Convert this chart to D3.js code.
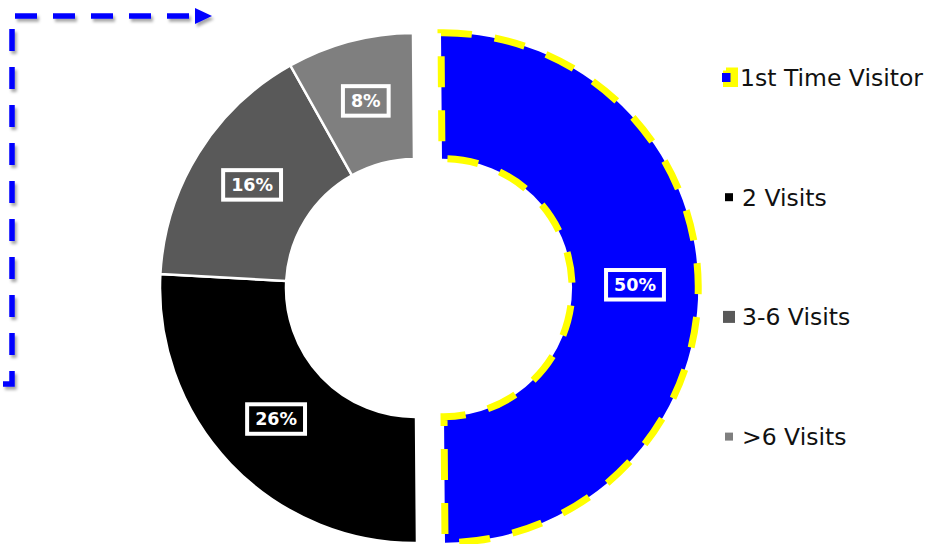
<!DOCTYPE html>
<html>
<head>
<meta charset="utf-8">
<script src="https://cdn.jsdelivr.net/npm/d3@7/dist/d3.min.js"></script>
<style>
  html, body { margin: 0; padding: 0; background: #fff; }
  svg { display: block; }
</style>
</head>
<body>
<svg id="chart" width="927" height="544"></svg>
<script>
// ---- data ----
const categories = ["1st Time Visitor", "2 Visits", "3-6 Visits", ">6 Visits"];
const values = [50, 26, 16, 8];
const valueLabels = ["50%", "26%", "16%", "8%"];

// ---- styles ----
const colors = ["#0000ff", "#000000", "#595959", "#7f7f7f"];
const legendMarkerSize = [8, 8, 12, 8];

const W = 927, H = 544;
const cx = 415, cy = 288;
const outerR = 255, innerR = 129;
const explode = 28;
const rot = -0.45 * Math.PI / 180;

const svg = d3.select("#chart");
const defs = svg.append("defs");
const f = defs.append("filter").attr("id", "shadow")
  .attr("x", "-20%").attr("y", "-20%").attr("width", "140%").attr("height", "140%");
f.append("feDropShadow").attr("dx", 2).attr("dy", 3).attr("stdDeviation", 1.6)
  .attr("flood-color", "#000").attr("flood-opacity", 0.35);

// ---- dashed arrow ----
const arrowPts = [[3, 384], [12, 384], [12, 16], [196, 16]];
const ag = svg.append("g").attr("filter", "url(#shadow)");
ag.append("path")
  .attr("d", d3.line()(arrowPts))
  .attr("fill", "none")
  .attr("stroke", "#0000ff")
  .attr("stroke-width", 5.5)
  .attr("stroke-dasharray", "22,16");
ag.append("path")
  .attr("d", "M195,8 L212,16 L195,24 Z")
  .attr("fill", "#0000ff");

// ---- donut ----
const pie = d3.pie().sort(null).value(d => d)
  .startAngle(rot).endAngle(2 * Math.PI + rot);
const arcs = pie(values);
const arc = d3.arc().innerRadius(innerR).outerRadius(outerR);
const labelArc = d3.arc().innerRadius((innerR + outerR) / 2).outerRadius((innerR + outerR) / 2);

const g = svg.append("g").attr("transform", `translate(${cx},${cy})`);

function offset(d, i) {
  if (i !== 0) return [0, 0];
  const m = (d.startAngle + d.endAngle) / 2;
  return [explode * Math.sin(m), -explode * Math.cos(m)];
}

const slices = g.selectAll("g.slice").data(arcs).join("g")
  .attr("class", "slice")
  .attr("transform", (d, i) => { const o = offset(d, i); return `translate(${o[0]},${o[1]})`; });

slices.append("path")
  .attr("d", arc)
  .attr("fill", (d, i) => colors[i])
  .attr("stroke", (d, i) => i === 0 ? "#ffff00" : "#ffffff")
  .attr("stroke-width", (d, i) => i === 0 ? 7 : 2.5)
  .attr("stroke-dasharray", (d, i) => i === 0 ? "31,23" : null)
  .attr("stroke-linejoin", "miter");

// labels with boxes
slices.each(function (d, i) {
  const c = labelArc.centroid(d);
  const sg = d3.select(this).append("g").attr("transform", `translate(${c[0]},${c[1] - 1.5})`);
  const rect = sg.append("rect");
  const t = sg.append("text")
    .attr("text-anchor", "middle")
    .attr("dy", "0.36em")
    .attr("fill", "#fff")
    .attr("font-family", "DejaVu Sans")
    .attr("font-weight", "bold")
    .attr("font-size", "17.5px")
    .text(valueLabels[i]);
  const bb = t.node().getBBox();
  const padX = 8, h = 29.5;
  rect.attr("x", -bb.width / 2 - padX)
    .attr("y", -h / 2)
    .attr("width", bb.width + 2 * padX)
    .attr("height", h)
    .attr("fill", "none")
    .attr("stroke", "#fff")
    .attr("stroke-width", 4);
});

// ---- legend ----
const legendX = 742, legendY0 = 86, legendStep = 119.7;
const lg = svg.append("g");
categories.forEach((name, i) => {
  const y = legendY0 + i * legendStep;
  const mcy = y - 8.5;
  if (i === 0) {
    lg.append("rect").attr("x", 723).attr("y", 67.5).attr("width", 15).attr("height", 19.5)
      .attr("fill", "#ffff00");
    lg.append("rect").attr("x", 722).attr("y", mcy - 4.5).attr("width", 8.5).attr("height", 9)
      .attr("fill", colors[0]);
    lg.append("rect").attr("x", 722).attr("y", 67).attr("width", 4).attr("height", 3.5)
      .attr("fill", "#fff");
  } else {
    const s = legendMarkerSize[i];
    lg.append("rect")
      .attr("x", 729 - s / 2).attr("y", mcy - s / 2)
      .attr("width", s).attr("height", s)
      .attr("fill", colors[i]);
  }
  lg.append("text")
    .attr("x", i === 0 ? 740 : legendX)
    .attr("y", y)
    .attr("font-family", "DejaVu Sans")
    .attr("font-size", "23.5px")
    .attr("fill", "#111")
    .text(name);
});
</script>
</body>
</html>
